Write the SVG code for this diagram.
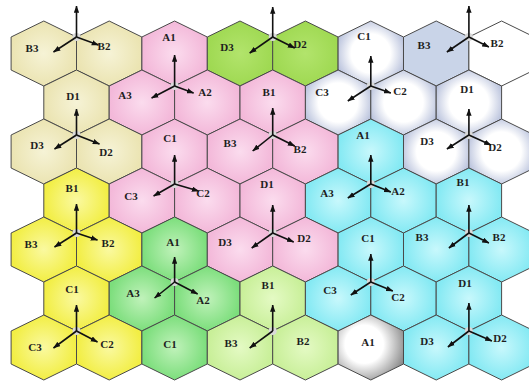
<svg xmlns="http://www.w3.org/2000/svg" xmlns:xlink="http://www.w3.org/1999/xlink" width="529" height="381" viewBox="0 0 529 381">
<defs>
<style>
.hex{stroke:#4a4a4a;stroke-width:1;}
.lbl{font-family:"Liberation Serif","Times New Roman",serif;font-weight:bold;font-size:11px;fill:#1e1e1e;text-anchor:middle;}
.ax{stroke:#111;stroke-width:1.6;fill:none;marker-end:url(#ah);}
.org{fill:#d9d9d9;}
.beige{fill:url(#gBeige);} .pink{fill:url(#gPink);} .lime{fill:url(#gLime);}
.yellow{fill:url(#gYellow);} .green{fill:url(#gGreen);} .ltgreen{fill:url(#gLtGreen);}
.cyan{fill:url(#gCyan);} .wb{fill:url(#gWB);} .bluegray{fill:#c9d4e8;} .gray{fill:url(#gGray);} .white{fill:#ffffff;}
</style>
<polygon id="hx" points="0,-32.5 32.7,-16.5 32.7,16.5 0,32.5 -32.7,16.5 -32.7,-16.5"/>
<marker id="ah" viewBox="0 0 8 6" refX="7.5" refY="3" markerWidth="4.5" markerHeight="3.6" orient="auto" markerUnits="strokeWidth">
<path d="M0,0 L8,3 L0,6 z" fill="#111"/>
</marker>
<radialGradient id="gBeige"><stop offset="0" stop-color="#f6f3d6"/><stop offset="1" stop-color="#ebe4b2"/></radialGradient>
<radialGradient id="gPink"><stop offset="0" stop-color="#fbdcee"/><stop offset="1" stop-color="#f3b8d9"/></radialGradient>
<radialGradient id="gLime"><stop offset="0" stop-color="#b2e46c"/><stop offset="1" stop-color="#9fd952"/></radialGradient>
<radialGradient id="gYellow"><stop offset="0" stop-color="#faf9a0"/><stop offset="1" stop-color="#f2ee44"/></radialGradient>
<radialGradient id="gGreen"><stop offset="0" stop-color="#c0f2ba"/><stop offset="1" stop-color="#7cde7c"/></radialGradient>
<radialGradient id="gLtGreen"><stop offset="0" stop-color="#e4fac4"/><stop offset="1" stop-color="#c8ef98"/></radialGradient>
<radialGradient id="gCyan"><stop offset="0" stop-color="#c8f8fc"/><stop offset="1" stop-color="#84e9f3"/></radialGradient>
<radialGradient id="gWB" cx="0.5" cy="0.5" r="0.6"><stop offset="0.5" stop-color="#ffffff"/><stop offset="1" stop-color="#a9b4d4"/></radialGradient>
<radialGradient id="gGray" cx="0.4" cy="0.45" r="0.65"><stop offset="0.45" stop-color="#ffffff"/><stop offset="1" stop-color="#8a8a8a"/></radialGradient>
</defs>
<rect width="529" height="381" fill="#ffffff"/>
<g id="hexes">
<g id="r0-B3"><use href="#hx" x="43.8" y="53.5" class="hex beige"/><text class="lbl" x="32" y="52">B3</text></g>
<g id="r0-B2"><use href="#hx" x="109.2" y="53.5" class="hex beige"/><text class="lbl" x="104" y="50">B2</text></g>
<g id="r0-A1"><use href="#hx" x="174.6" y="53.5" class="hex pink"/><text class="lbl" x="169" y="41">A1</text></g>
<g id="r0-D3"><use href="#hx" x="240" y="53.5" class="hex lime"/><text class="lbl" x="227" y="51">D3</text></g>
<g id="r0-D2"><use href="#hx" x="305.4" y="53.5" class="hex lime"/><text class="lbl" x="300" y="48">D2</text></g>
<g id="r0-C1"><use href="#hx" x="370.8" y="53.5" class="hex wb"/><text class="lbl" x="364" y="40">C1</text></g>
<g id="r0-B3b"><use href="#hx" x="436.2" y="53.5" class="hex bluegray"/><text class="lbl" x="424" y="49">B3</text></g>
<g id="r0-B2b"><use href="#hx" x="501.6" y="53.5" class="hex white"/><text class="lbl" x="497" y="47">B2</text></g>
<g id="r1-D1"><use href="#hx" x="76.5" y="102.5" class="hex beige"/><text class="lbl" x="73" y="100">D1</text></g>
<g id="r1-A3"><use href="#hx" x="141.9" y="102.5" class="hex pink"/><text class="lbl" x="125" y="99">A3</text></g>
<g id="r1-A2"><use href="#hx" x="207.3" y="102.5" class="hex pink"/><text class="lbl" x="205" y="96">A2</text></g>
<g id="r1-B1"><use href="#hx" x="272.7" y="102.5" class="hex pink"/><text class="lbl" x="269" y="96">B1</text></g>
<g id="r1-C3"><use href="#hx" x="338.1" y="102.5" class="hex wb"/><text class="lbl" x="322" y="96">C3</text></g>
<g id="r1-C2"><use href="#hx" x="403.5" y="102.5" class="hex wb"/><text class="lbl" x="400" y="95">C2</text></g>
<g id="r1-D1b"><use href="#hx" x="468.9" y="102.5" class="hex wb"/><text class="lbl" x="467" y="93">D1</text></g>
<g id="r2-D3"><use href="#hx" x="43.8" y="151.5" class="hex beige"/><text class="lbl" x="37" y="149">D3</text></g>
<g id="r2-D2"><use href="#hx" x="109.2" y="151.5" class="hex beige"/><text class="lbl" x="106" y="156">D2</text></g>
<g id="r2-C1"><use href="#hx" x="174.6" y="151.5" class="hex pink"/><text class="lbl" x="170" y="142">C1</text></g>
<g id="r2-B3"><use href="#hx" x="240" y="151.5" class="hex pink"/><text class="lbl" x="230" y="147">B3</text></g>
<g id="r2-B2"><use href="#hx" x="305.4" y="151.5" class="hex pink"/><text class="lbl" x="300" y="153">B2</text></g>
<g id="r2-A1"><use href="#hx" x="370.8" y="151.5" class="hex cyan"/><text class="lbl" x="363" y="139">A1</text></g>
<g id="r2-D3b"><use href="#hx" x="436.2" y="151.5" class="hex wb"/><text class="lbl" x="427" y="145">D3</text></g>
<g id="r2-D2b"><use href="#hx" x="501.6" y="151.5" class="hex wb"/><text class="lbl" x="495" y="151">D2</text></g>
<g id="r3-B1"><use href="#hx" x="76.5" y="200.5" class="hex yellow"/><text class="lbl" x="72" y="192">B1</text></g>
<g id="r3-C3"><use href="#hx" x="141.9" y="200.5" class="hex pink"/><text class="lbl" x="131" y="200">C3</text></g>
<g id="r3-C2"><use href="#hx" x="207.3" y="200.5" class="hex pink"/><text class="lbl" x="203" y="197">C2</text></g>
<g id="r3-D1"><use href="#hx" x="272.7" y="200.5" class="hex pink"/><text class="lbl" x="267" y="188">D1</text></g>
<g id="r3-A3"><use href="#hx" x="338.1" y="200.5" class="hex cyan"/><text class="lbl" x="327" y="197">A3</text></g>
<g id="r3-A2"><use href="#hx" x="403.5" y="200.5" class="hex cyan"/><text class="lbl" x="398" y="195">A2</text></g>
<g id="r3-B1b"><use href="#hx" x="468.9" y="200.5" class="hex cyan"/><text class="lbl" x="463" y="186">B1</text></g>
<g id="r4-B3"><use href="#hx" x="43.8" y="249.5" class="hex yellow"/><text class="lbl" x="31" y="248">B3</text></g>
<g id="r4-B2"><use href="#hx" x="109.2" y="249.5" class="hex yellow"/><text class="lbl" x="108" y="247">B2</text></g>
<g id="r4-A1"><use href="#hx" x="174.6" y="249.5" class="hex green"/><text class="lbl" x="173" y="246">A1</text></g>
<g id="r4-D3"><use href="#hx" x="240" y="249.5" class="hex pink"/><text class="lbl" x="225" y="246">D3</text></g>
<g id="r4-D2"><use href="#hx" x="305.4" y="249.5" class="hex pink"/><text class="lbl" x="304" y="242">D2</text></g>
<g id="r4-C1"><use href="#hx" x="370.8" y="249.5" class="hex cyan"/><text class="lbl" x="368" y="242">C1</text></g>
<g id="r4-B3b"><use href="#hx" x="436.2" y="249.5" class="hex cyan"/><text class="lbl" x="422" y="241">B3</text></g>
<g id="r4-B2b"><use href="#hx" x="501.6" y="249.5" class="hex cyan"/><text class="lbl" x="499" y="241">B2</text></g>
<g id="r5-C1"><use href="#hx" x="76.5" y="298.5" class="hex yellow"/><text class="lbl" x="72" y="293">C1</text></g>
<g id="r5-A3"><use href="#hx" x="141.9" y="298.5" class="hex green"/><text class="lbl" x="133" y="297">A3</text></g>
<g id="r5-A2"><use href="#hx" x="207.3" y="298.5" class="hex green"/><text class="lbl" x="203" y="304">A2</text></g>
<g id="r5-B1"><use href="#hx" x="272.7" y="298.5" class="hex ltgreen"/><text class="lbl" x="268" y="289">B1</text></g>
<g id="r5-C3"><use href="#hx" x="338.1" y="298.5" class="hex cyan"/><text class="lbl" x="330" y="294">C3</text></g>
<g id="r5-C2"><use href="#hx" x="403.5" y="298.5" class="hex cyan"/><text class="lbl" x="398" y="301">C2</text></g>
<g id="r5-D1"><use href="#hx" x="468.9" y="298.5" class="hex cyan"/><text class="lbl" x="465" y="287">D1</text></g>
<g id="r6-C3"><use href="#hx" x="43.8" y="347.5" class="hex yellow"/><text class="lbl" x="35" y="351">C3</text></g>
<g id="r6-C2"><use href="#hx" x="109.2" y="347.5" class="hex yellow"/><text class="lbl" x="107" y="348">C2</text></g>
<g id="r6-C1"><use href="#hx" x="174.6" y="347.5" class="hex green"/><text class="lbl" x="170" y="348">C1</text></g>
<g id="r6-B3"><use href="#hx" x="240" y="347.5" class="hex ltgreen"/><text class="lbl" x="231" y="347">B3</text></g>
<g id="r6-B2"><use href="#hx" x="305.4" y="347.5" class="hex ltgreen"/><text class="lbl" x="303" y="345">B2</text></g>
<g id="r6-A1"><use href="#hx" x="370.8" y="347.5" class="hex gray"/><text class="lbl" x="368" y="346">A1</text></g>
<g id="r6-D3"><use href="#hx" x="436.2" y="347.5" class="hex cyan"/><text class="lbl" x="427" y="345">D3</text></g>
<g id="r6-D2"><use href="#hx" x="501.6" y="347.5" class="hex cyan"/><text class="lbl" x="500" y="342">D2</text></g>
</g>
<g id="connectors">
<g id="ax1"><circle class="org" cx="76.5" cy="37" r="4"/><path class="ax" d="M76.5,37 V6"/><path class="ax" d="M76.5,37 l-23,15"/><path class="ax" d="M76.5,37 l22,8"/></g>
<g id="ax2"><circle class="org" cx="174.6" cy="86" r="4"/><path class="ax" d="M174.6,86 V55"/><path class="ax" d="M174.6,86 l-23,12"/><path class="ax" d="M174.6,86 l19,7"/></g>
<g id="ax3"><circle class="org" cx="272.7" cy="37" r="4"/><path class="ax" d="M272.7,37 V7"/><path class="ax" d="M272.7,37 l-23,16"/><path class="ax" d="M272.7,37 l22,11"/></g>
<g id="ax4"><circle class="org" cx="370.8" cy="86" r="4"/><path class="ax" d="M370.8,86 V56"/><path class="ax" d="M370.8,86 l-23,15"/><path class="ax" d="M370.8,86 l20,7"/></g>
<g id="ax5"><circle class="org" cx="468.9" cy="37" r="4"/><path class="ax" d="M468.9,37 V6"/><path class="ax" d="M468.9,37 l-22,15"/><path class="ax" d="M468.9,37 l20,10"/></g>
<g id="ax6"><circle class="org" cx="76.5" cy="135" r="4"/><path class="ax" d="M76.5,135 V109"/><path class="ax" d="M76.5,135 l-22,14"/><path class="ax" d="M76.5,135 l23,9"/></g>
<g id="ax7"><circle class="org" cx="272.7" cy="135" r="4"/><path class="ax" d="M272.7,135 V108"/><path class="ax" d="M272.7,135 l-20,16"/><path class="ax" d="M272.7,135 l22,11"/></g>
<g id="ax8"><circle class="org" cx="174.6" cy="184" r="4"/><path class="ax" d="M174.6,184 V155"/><path class="ax" d="M174.6,184 l-21,12"/><path class="ax" d="M174.6,184 l24,7"/></g>
<g id="ax9"><circle class="org" cx="468.9" cy="135" r="4"/><path class="ax" d="M468.9,135 V109"/><path class="ax" d="M468.9,135 l-22,14"/><path class="ax" d="M468.9,135 l22,10"/></g>
<g id="ax10"><circle class="org" cx="370.8" cy="184" r="4"/><path class="ax" d="M370.8,184 V155"/><path class="ax" d="M370.8,184 l-23,14"/><path class="ax" d="M370.8,184 l20,8"/></g>
<g id="ax11"><circle class="org" cx="272.7" cy="233" r="4"/><path class="ax" d="M272.7,233 V205"/><path class="ax" d="M272.7,233 l-21,15"/><path class="ax" d="M272.7,233 l21,9"/></g>
<g id="ax12"><circle class="org" cx="76.5" cy="233" r="4"/><path class="ax" d="M76.5,233 V204"/><path class="ax" d="M76.5,233 l-22,14"/><path class="ax" d="M76.5,233 l21,7"/></g>
<g id="ax13"><circle class="org" cx="468.9" cy="233" r="4"/><path class="ax" d="M468.9,233 V205"/><path class="ax" d="M468.9,233 l-20,15"/><path class="ax" d="M468.9,233 l20,10"/></g>
<g id="ax14"><circle class="org" cx="174.6" cy="282" r="4"/><path class="ax" d="M174.6,282 V257"/><path class="ax" d="M174.6,282 l-20,16"/><path class="ax" d="M174.6,282 l23,12"/></g>
<g id="ax15"><circle class="org" cx="370.8" cy="282" r="4"/><path class="ax" d="M370.8,282 V254"/><path class="ax" d="M370.8,282 l-20,13"/><path class="ax" d="M370.8,282 l22,9"/></g>
<g id="ax16"><circle class="org" cx="76.5" cy="331" r="4"/><path class="ax" d="M76.5,331 V305"/><path class="ax" d="M76.5,331 l-23,17"/><path class="ax" d="M76.5,331 l21,11"/></g>
<g id="ax17"><circle class="org" cx="272.7" cy="331" r="4"/><path class="ax" d="M272.7,331 V305"/><path class="ax" d="M272.7,331 l-23,17"/></g>
<g id="ax18"><circle class="org" cx="468.9" cy="331" r="4"/><path class="ax" d="M468.9,331 V303"/><path class="ax" d="M468.9,331 l-21,16"/><path class="ax" d="M468.9,331 l23,10"/></g>
</g>
</svg>
